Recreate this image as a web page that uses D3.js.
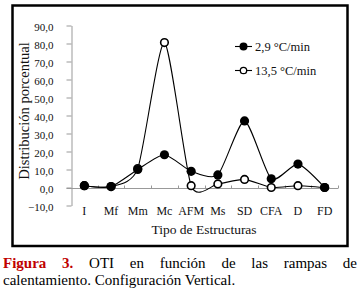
<!DOCTYPE html>
<html>
<head>
<meta charset="utf-8">
<script src="https://cdn.jsdelivr.net/npm/d3@7"></script>
<style>
  body { margin: 0; background: #fff; }
  svg { display: block; }
</style>
</head>
<body>
<div id="chart"></div>
<script>
    // Data
    var categories = ["I", "Mf", "Mm", "Mc", "AFM", "Ms", "SD", "CFA", "D", "FD"]
    var slow = [1.0, 0.5, 10.0, 18.2, 9.0, 7.0, 37.0, 4.8, 13.0, 0.0]    // 2,9 °C/min
    var fast = [1.0, 0.5, 10.5, 80.5, 1.0, 2.0, 4.5, 0.0, 1.0, 0.0]     // 13,5 °C/min
    var seriesNames = ["2,9 °C/min", "13,5 °C/min"]
    var yTicks = [-10, 0, 10, 20, 30, 40, 50, 60, 70, 80, 90]

    var W = 360, H = 294
    var serif = "'Liberation Serif', 'Times New Roman', serif"
    var axisGrey = "#999"

    var svg = d3.select("#chart").append("svg")
        .attr("width", W).attr("height", H)

    // outer frame
    svg.append("rect")
        .attr("x", 12.5).attr("y", 5.5)
        .attr("width", 335).attr("height", 240.5)
        .attr("fill", "none").attr("stroke", "#000").attr("stroke-width", 2.5)

    var x = d3.scaleBand().domain(categories).range([71, 338])
    var y = d3.scaleLinear().domain([-10, 90]).range([205.5, 25.5])
    var cx = d => x(d) + x.bandwidth() / 2

    // y axis
    var yAxis = svg.append("g")
        .attr("transform", "translate(71.5,0)")
        .call(d3.axisLeft(y).tickValues(yTicks).tickSize(5).tickSizeOuter(0)
            .tickFormat(d => d3.format(".1f")(d).replace(".", ",")))
    yAxis.select(".domain").attr("stroke", axisGrey)
    yAxis.selectAll(".tick line").attr("stroke", axisGrey)
    yAxis.selectAll("text").attr("font-family", serif).attr("font-size", 11)
        .attr("fill", "#111").attr("x", -18).attr("dy", "0.45em")

    // x axis at y = 0, ticks at category boundaries
    var xg = svg.append("g").attr("transform", `translate(0,${Math.round(y(0)) + 0.5})`)
    xg.append("line").attr("x1", 66.5).attr("x2", 338).attr("stroke", axisGrey)
    xg.selectAll(".xt").data(categories)
        .join("line")
        .attr("x1", (d, i) => Math.round(71 + x.bandwidth() * (i + 1)) + 0.5)
        .attr("x2", (d, i) => Math.round(71 + x.bandwidth() * (i + 1)) + 0.5)
        .attr("y1", 0).attr("y2", -3)
        .attr("stroke", axisGrey)
    svg.selectAll(".xl").data(categories)
        .join("text")
        .attr("x", d => cx(d)).attr("y", 215)
        .attr("text-anchor", "middle")
        .attr("font-family", serif).attr("font-size", 12).attr("fill", "#111")
        .text(d => d)

    // axis titles
    svg.append("text")
        .attr("x", 204).attr("y", 234)
        .attr("text-anchor", "middle")
        .attr("font-family", serif).attr("font-size", 13.5).attr("fill", "#111")
        .text("Tipo de Estructuras")
    svg.append("text")
        .attr("transform", "translate(29,111) rotate(-90)")
        .attr("text-anchor", "middle")
        .attr("font-family", serif).attr("font-size", 14.5).attr("fill", "#111")
        .text("Distribución porcentual")

    // smoothed lines
    var line = d3.line()
        .x((d, i) => cx(categories[i]))
        .y(d => y(d))
        .curve(d3.curveCardinal.tension(0.35))

    svg.append("path").attr("d", line(fast))
        .attr("fill", "none").attr("stroke", "#000").attr("stroke-width", 1.1)
    svg.append("path").attr("d", line(slow))
        .attr("fill", "none").attr("stroke", "#000").attr("stroke-width", 1.1)

    svg.selectAll(".pf").data(fast)
        .join("circle")
        .attr("cx", (d, i) => cx(categories[i])).attr("cy", d => y(d))
        .attr("r", 3.8)
        .attr("fill", "#fff").attr("stroke", "#000").attr("stroke-width", 1.6)
    svg.selectAll(".ps").data(slow)
        .join("circle")
        .attr("cx", (d, i) => cx(categories[i])).attr("cy", d => y(d))
        .attr("r", 4.6)
        .attr("fill", "#000")

    // legend
    var leg = svg.append("g")
    seriesNames.forEach(function(name, i) {
        var ly = 46.5 + i * 24
        leg.append("line").attr("x1", 235).attr("x2", 252).attr("y1", ly).attr("y2", ly)
            .attr("stroke", "#000").attr("stroke-width", 1.1)
        leg.append("circle").attr("cx", 243.5).attr("cy", ly)
            .attr("r", i == 0 ? 4 : 3.2)
            .attr("fill", i == 0 ? "#000" : "#fff")
            .attr("stroke", "#000").attr("stroke-width", i == 0 ? 0 : 1.3)
        leg.append("text").attr("x", 255).attr("y", ly + 4)
            .attr("font-family", serif).attr("font-size", 12.5).attr("fill", "#111")
            .text(name)
    })

    // caption (first line justified word by word)
    var words1 = [["Figura", true], ["3.", true], ["OTI"], ["en"], ["función"], ["de"], ["las"], ["rampas"], ["de"]]
    var cap = svg.append("g").attr("font-family", serif).attr("font-size", 15)
    var nodes = words1.map(w => cap.append("text").attr("y", 268)
        .attr("font-weight", w[1] ? "bold" : "normal")
        .attr("fill", w[1] ? "#c00000" : "#000")
        .text(w[0]))
    var widths = nodes.map(n => n.node().getComputedTextLength())
    var left = 3, right = 357
    var gap = (right - left - d3.sum(widths)) / (nodes.length - 1)
    var pos = left
    nodes.forEach(function(n, i) { n.attr("x", pos); pos += widths[i] + gap })
    cap.append("text").attr("x", 3).attr("y", 284.5)
        .text("calentamiento. Configuración Vertical.")
</script>
</body>
</html>
